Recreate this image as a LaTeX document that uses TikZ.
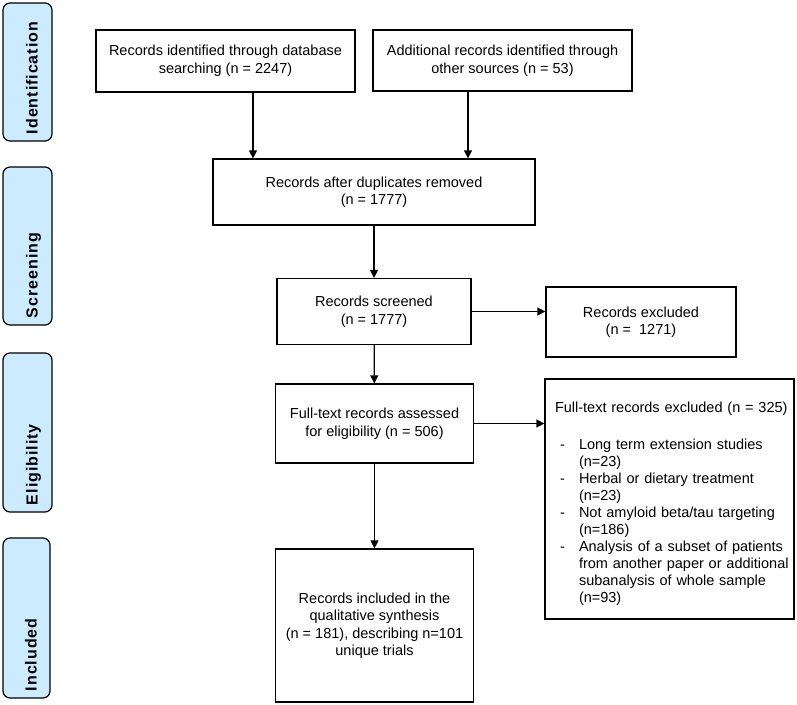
\documentclass[tikz,border=0pt]{standalone}
\usepackage{fontspec}
\setmainfont{Liberation Sans}
\newfontfamily\stagefont[LetterSpace=6]{Liberation Sans}
\usetikzlibrary{arrows.meta}
\definecolor{stageblue}{RGB}{204,235,254}
\begin{document}
\begin{tikzpicture}[x=1pt, y=-1pt, line width=1.2pt, >={Triangle[length=8pt, width=8pt]},
    box/.style = {draw, align=center, inner sep=0pt, font=\fontsize{14.5}{17.5}\selectfont},
    stage/.style = {draw, fill=stageblue, rounded corners=7pt, rotate=90, align=left, inner xsep=7pt, inner ysep=0pt, text height=22pt, text depth=2pt, font=\stagefont\fontsize{16}{18}\bfseries\selectfont}]
    \useasboundingbox (0,0) rectangle (797,704);
    % stage labels
    \node[stage, text width=124pt, minimum height=49pt] (sident) at (27.5,72) {Identification};
    \node[stage, text width=144pt, minimum height=49pt] (sscreen) at (27.5,246) {Screening};
    \node[stage, text width=145pt, minimum height=49pt] (selig) at (27.5,432.5) {Eligibility};
    \node[stage, text width=146pt, minimum height=47pt] (sincl) at (26.5,618) {Included};
    % flow boxes
    \node[box, minimum width=259pt, minimum height=62pt] (db) at (225.5,61) {Records identified through database\\searching (n = 2247)};
    \node[box, minimum width=259pt, minimum height=61pt] (other) at (502.5,60.5) {Additional records identified through\\other sources (n = 53)};
    \node[box, minimum width=322pt, minimum height=66pt] (dup) at (374,192) {Records after duplicates removed\\(n = 1777)};
    \node[box, minimum width=194pt, minimum height=66pt] (screen) at (374,311.5) {Records screened\\(n = 1777)};
    \node[box, minimum width=190pt, minimum height=70pt] (excl) at (641,322) {Records excluded\\(n =\ \ 1271)};
    \node[box, minimum width=198pt, minimum height=79pt] (full) at (374.5,423.5) {Full-text records assessed\\for eligibility (n = 506)};
    \node[box, minimum width=198pt, minimum height=153pt] (incl) at (374.5,625.5) {Records included in the\\qualitative synthesis\\(n = 181), describing n=101\\unique trials};
    \node[box, align=left, text width=229pt, inner xsep=10pt, minimum height=240pt, font=\fontsize{14.5}{17}\selectfont] (fullexcl) at (669.5,499) {%
      \begin{tabular}{@{\hspace{5pt}}p{19pt}@{}l@{}}
        \multicolumn{2}{@{}l@{}}{Full-text records excluded (n = 325)}\\[20pt]
        - & Long term extension studies\\
          & (n=23)\\
        - & Herbal or dietary treatment\\
          & (n=23)\\
        - & Not amyloid beta/tau targeting\\
          & (n=186)\\
        - & Analysis of a subset of patients\\
          & from another paper or additional\\
          & subanalysis of whole sample\\
          & (n=93)\\[-10pt]
      \end{tabular}};
    % connectors
    \draw[->] ([xshift=27.5pt]db.south) -- ([xshift=27.5pt]db.south |- dup.north);
    \draw[->] ([xshift=-34.5pt]other.south) -- ([xshift=-34.5pt]other.south |- dup.north);
    \draw[->] (dup) -- (screen);
    \draw[->] (screen.east) -- (screen.east -| excl.west);
    \draw[->] (screen) -- (full);
    \draw[->] (full.east) -- (full.east -| fullexcl.west);
    \draw[->] (full) -- (incl);
\end{tikzpicture}
\end{document}
